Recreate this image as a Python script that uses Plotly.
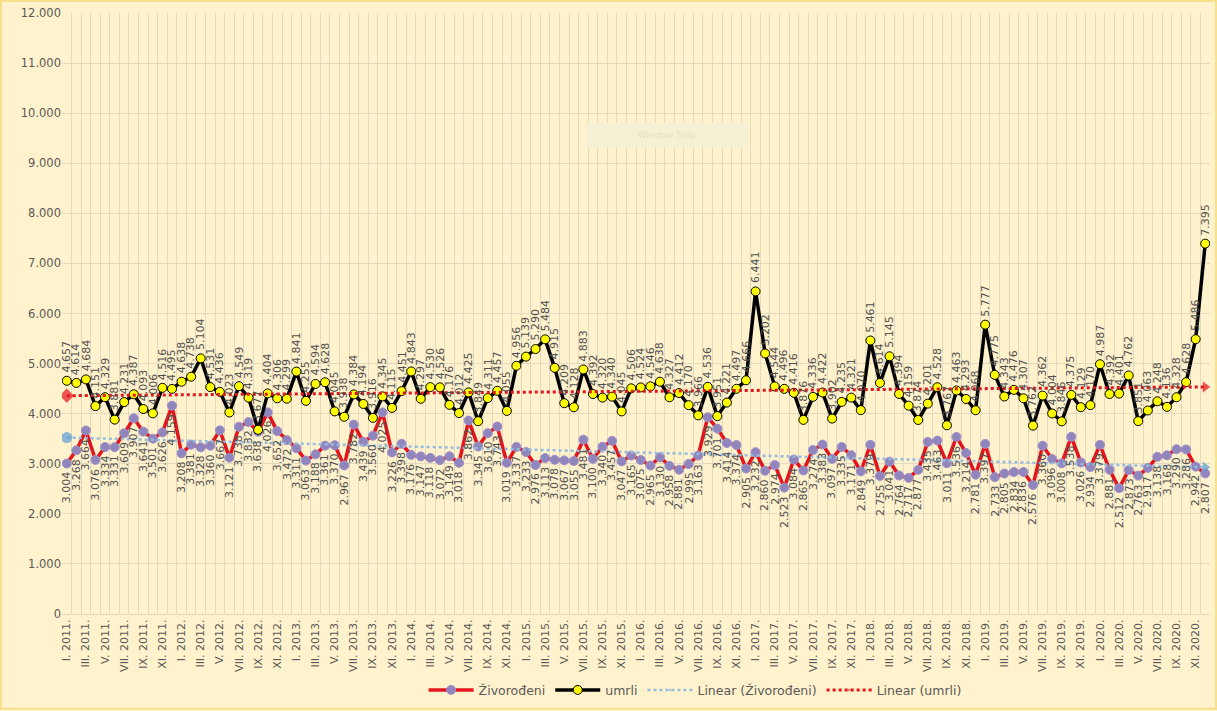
import numpy as np
import plotly.graph_objects as go

months = ["I", "II", "III", "IV", "V", "VI", "VII", "VIII", "IX", "X", "XI", "XII"]
years = list(range(2011, 2021))
categories = [f"{m}. {y}." for y in years for m in months]

zivorodeni = [
    3004, 3268, 3664, 3076, 3334, 3331, 3609, 3907, 3641, 3501, 3626, 4159,
    3208, 3381, 3328, 3360, 3667, 3121, 3738, 3832, 3638, 4026, 3652, 3472,
    3311, 3063, 3188, 3361, 3370, 2967, 3782, 3439, 3560, 4025, 3226, 3398,
    3176, 3147, 3118, 3072, 3149, 3018, 3862, 3345, 3610, 3743, 3019, 3337,
    3233, 2976, 3113, 3078, 3067, 3055, 3481, 3100, 3340, 3457, 3047, 3165,
    3075, 2965, 3130, 2958, 2881, 2995, 3163, 3929, 3701, 3414, 3374, 2905,
    3232, 2860, 2974, 2523, 3084, 2865, 3274, 3383, 3097, 3335, 3171, 2849,
    3379, 2755, 3041, 2764, 2717, 2877, 3435, 3463, 3011, 3536, 3214, 2781,
    3397, 2733, 2805, 2834, 2836, 2576, 3360, 3096, 3008, 3538, 3026, 2934,
    3379, 2881, 2512, 2873, 2763, 2917, 3138, 3168, 3290, 3286, 2942, 2807,
]

umrli = [
    4657, 4614, 4684, 4151, 4329, 3881, 4231, 4387, 4093, 4006, 4516, 4495,
    4638, 4738, 5104, 4531, 4436, 4023, 4549, 4319, 3677, 4404, 4306, 4299,
    4841, 4255, 4594, 4628, 4045, 3938, 4384, 4194, 3916, 4345, 4115, 4451,
    4843, 4297, 4530, 4526, 4176, 4012, 4425, 3849, 4311, 4457, 4055, 4956,
    5139, 5290, 5484, 4915, 4209, 4128, 4883, 4392, 4320, 4340, 4045, 4506,
    4524, 4546, 4638, 4327, 4412, 4170, 3966, 4536, 3951, 4221, 4497, 4666,
    6441, 5202, 4544, 4496, 4416, 3876, 4336, 4422, 3902, 4235, 4321, 4070,
    5461, 4614, 5145, 4394, 4159, 3874, 4201, 4528, 3767, 4463, 4293, 4068,
    5777, 4775, 4343, 4476, 4307, 3762, 4362, 4004, 3846, 4375, 4129, 4170,
    4987, 4392, 4401, 4762, 3851, 4063, 4248, 4136, 4328, 4628, 5486, 7395,
]

y_ticks = list(range(0, 12001, 1000))


def fmt(v):
    return f"{v:,}".replace(",", ".")


n = len(categories)
idx = np.arange(n)
tz = np.polyval(np.polyfit(idx, zivorodeni, 1), idx)
tu = np.polyval(np.polyfit(idx, umrli, 1), idx)

BG = "#FFF2CC"
GRID = "#E3D9BE"
LABEL = "#505050"
FONT = "DejaVu Sans"

fig = go.Figure()

fig.add_trace(go.Scatter(
    x=idx, y=zivorodeni, name="Živorođeni", mode="lines+markers",
    line=dict(color="#E3141B", width=3.5),
    marker=dict(size=9, color="#8F86BE", line=dict(color="#A38FC8", width=1)),
))
fig.add_trace(go.Scatter(
    x=idx, y=umrli, name="umrli", mode="lines+markers",
    line=dict(color="#000000", width=3.5),
    marker=dict(size=9, color="#FFFF00", line=dict(color="#000000", width=1)),
))

size_end = [11] + [0] * (n - 2) + [10]
fig.add_trace(go.Scatter(
    x=idx, y=tz, name="Linear (Živorođeni)", mode="lines+markers",
    line=dict(color="#93BCE0", width=2.5, dash="dot"),
    marker=dict(symbol=["circle"] * (n - 1) + ["triangle-right"],
                size=size_end, color="#5B9BD5", line=dict(width=0)),
))
fig.add_trace(go.Scatter(
    x=idx, y=tu, name="Linear (umrli)", mode="lines+markers",
    line=dict(color="#E3141B", width=3, dash="dot"),
    marker=dict(symbol=["diamond"] * (n - 1) + ["triangle-right"],
                size=size_end, color="#E3141B", line=dict(width=0)),
))

annotations = []
for i, v in zip(idx, umrli):
    annotations.append(dict(
        x=int(i), y=v, xref="x", yref="y", text=fmt(v), showarrow=False,
        textangle=-90, yanchor="bottom", xanchor="center", yshift=6,
        font=dict(family=FONT, size=11, color=LABEL),
    ))
for i, v in zip(idx, zivorodeni):
    annotations.append(dict(
        x=int(i), y=v, xref="x", yref="y", text=fmt(v), showarrow=False,
        textangle=-90, yanchor="top", xanchor="center", yshift=-6,
        font=dict(family=FONT, size=11, color=LABEL),
    ))
annotations.append(dict(
    x=0.527, y=0.819, xref="paper", yref="paper", text="Window Snip",
    showarrow=False, font=dict(family=FONT, size=9, color="#E6E0C6"),
    bgcolor="#F6F1D4", width=160, height=22,
))
fig.update_layout(annotations=annotations)

fig.update_xaxes(
    range=[-0.5, n - 0.5],
    tickmode="array",
    tickvals=[int(i) for i in idx if i % 2 == 0],
    ticktext=[c for i, c in enumerate(categories) if i % 2 == 0],
    tickangle=-90, showgrid=False,
    minor=dict(tickmode="linear", tick0=-0.5, dtick=1, showgrid=True,
               gridcolor=GRID, gridwidth=1, ticks=""),
    showline=True, linecolor=GRID, ticks="", zeroline=False,
    tickfont=dict(family=FONT, size=11, color="#595959"),
)
fig.update_yaxes(
    range=[0, 12000], tickvals=y_ticks, tickformat=",",
    showgrid=True, gridcolor=GRID, gridwidth=1, zeroline=False,
    showline=False, ticks="",
    tickfont=dict(family=FONT, size=11.5, color="#595959"),
)

fig.update_layout(
    width=1217, height=711,
    separators=",.",
    paper_bgcolor=BG, plot_bgcolor=BG,
    margin=dict(l=62, r=7, t=13, b=96),
    font=dict(family=FONT, size=11, color="#595959"),
    legend=dict(
        orientation="h", x=0.315, xanchor="left", y=-0.125, yanchor="middle",
        bgcolor="rgba(0,0,0,0)", font=dict(family=FONT, size=12.5, color="#595959"),
        itemwidth=45, traceorder="normal",
    ),
    showlegend=True,
    shapes=[dict(
        type="rect", xref="paper", yref="paper",
        x0=-61 / 1148, x1=1 + 6 / 1148, y0=-95 / 602, y1=1 + 12 / 602,
        line=dict(color="#F7E08A", width=2), fillcolor="rgba(0,0,0,0)",
        layer="below",
    )],
)

fig.write_html(
    "out.html",
    config={"displayModeBar": False},
    post_script="document.body.style.margin='0';document.body.style.padding='0';"
                "document.body.style.background='#FFF2CC';",
)
